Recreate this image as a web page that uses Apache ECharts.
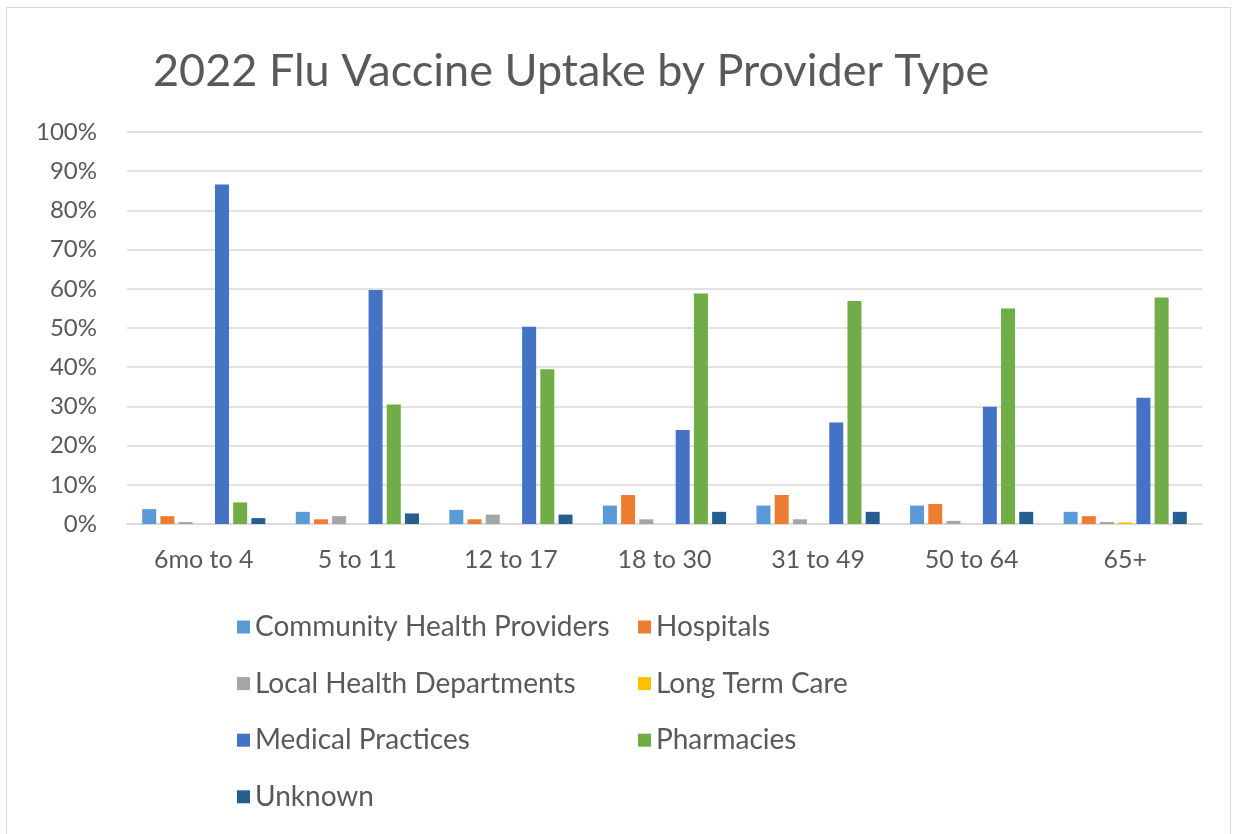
<!DOCTYPE html>
<html>
<head>
<meta charset="utf-8">
<script src="https://cdn.jsdelivr.net/npm/echarts@6/dist/echarts.min.js"></script>
<style>
  html, body { margin: 0; padding: 0; background: #fff; }
  #frame { position: absolute; left: 6px; top: 7px; width: 1225px; height: 840px; border: 1px solid #d9d9d9; box-sizing: border-box; }
  #chart { position: absolute; left: 0; top: 0; width: 1240px; height: 834px; }
</style>
</head>
<body>
<div id="frame"></div>
<div id="chart"></div>
<script>
const categories = ['6mo to 4', '5 to 11', '12 to 17', '18 to 30', '31 to 49', '50 to 64', '65+']
const seriesNames = [
  'Community Health Providers', 'Hospitals', 'Local Health Departments',
  'Long Term Care', 'Medical Practices', 'Pharmacies', 'Unknown'
]
// values in percent
const communityHealth = [3.8, 3.1, 3.6, 4.7, 4.7, 4.7, 3.1]
const hospitals = [2.0, 1.2, 1.2, 7.4, 7.4, 5.1, 2.0]
const localHealth = [0.5, 2.0, 2.4, 1.2, 1.2, 0.8, 0.5]
const longTermCare = [0, 0, 0, 0, 0, 0, 0.4]
const medicalPractices = [86.6, 59.7, 50.3, 24.0, 25.9, 29.9, 32.2]
const pharmacies = [5.5, 30.5, 39.5, 58.8, 56.9, 55.0, 57.8]
const unknown = [1.5, 2.7, 2.4, 3.1, 3.1, 3.1, 3.1]
const yTicks = [0, 10, 20, 30, 40, 50, 60, 70, 80, 90, 100]

const seriesData = [communityHealth, hospitals, localHealth, longTermCare, medicalPractices, pharmacies, unknown]
const colors = ['#5B9BD5', '#ED7D31', '#A5A5A5', '#FFC000', '#4472C4', '#70AD47', '#255E91']

const chart = echarts.init(document.getElementById('chart'))

const legendCommon = {
  orient: 'vertical',
  itemWidth: 13,
  itemHeight: 13,
  itemGap: 28.6,
  icon: 'rect',
  textStyle: { fontFamily: 'Lato', fontSize: 28, color: '#595959', padding: [0, 0, 0, 0] }
}

const option = {
  color: colors,
  animation: false,
  title: {
    text: '2022 Flu Vaccine Uptake by Provider Type',
    left: 148,
    top: 44,
    textStyle: { fontFamily: 'Lato', fontSize: 45, fontWeight: 'normal', color: '#595959' }
  },
  legend: [
    Object.assign({}, legendCommon, {
      left: 232, top: 608,
      data: [seriesNames[0], seriesNames[2], seriesNames[4], seriesNames[6]]
    }),
    Object.assign({}, legendCommon, {
      left: 633, top: 608,
      data: [seriesNames[1], seriesNames[3], seriesNames[5]]
    })
  ],
  grid: { left: 127, right: 38, top: 132, bottom: 310, containLabel: false },
  xAxis: {
    type: 'category',
    data: categories,
    axisLine: { lineStyle: { color: '#d9d9d9', width: 1.5 } },
    axisTick: { show: false },
    axisLabel: { fontFamily: 'Lato', fontSize: 25, color: '#595959', margin: 23 }
  },
  yAxis: {
    type: 'value',
    min: yTicks[0],
    max: yTicks[yTicks.length - 1],
    interval: 10,
    axisLine: { show: false },
    axisTick: { show: false },
    splitLine: { lineStyle: { color: '#d9d9d9', width: 1.5 } },
    axisLabel: { fontFamily: 'Lato', fontSize: 24, color: '#595959', margin: 30, formatter: '{value}%' }
  },
  series: seriesNames.map((name, i) => ({
    name: name,
    type: 'bar',
    data: seriesData[i],
    barWidth: 14,
    barGap: '30%',
    itemStyle: { color: colors[i] }
  }))
}

chart.setOption(option)
</script>
</body>
</html>
